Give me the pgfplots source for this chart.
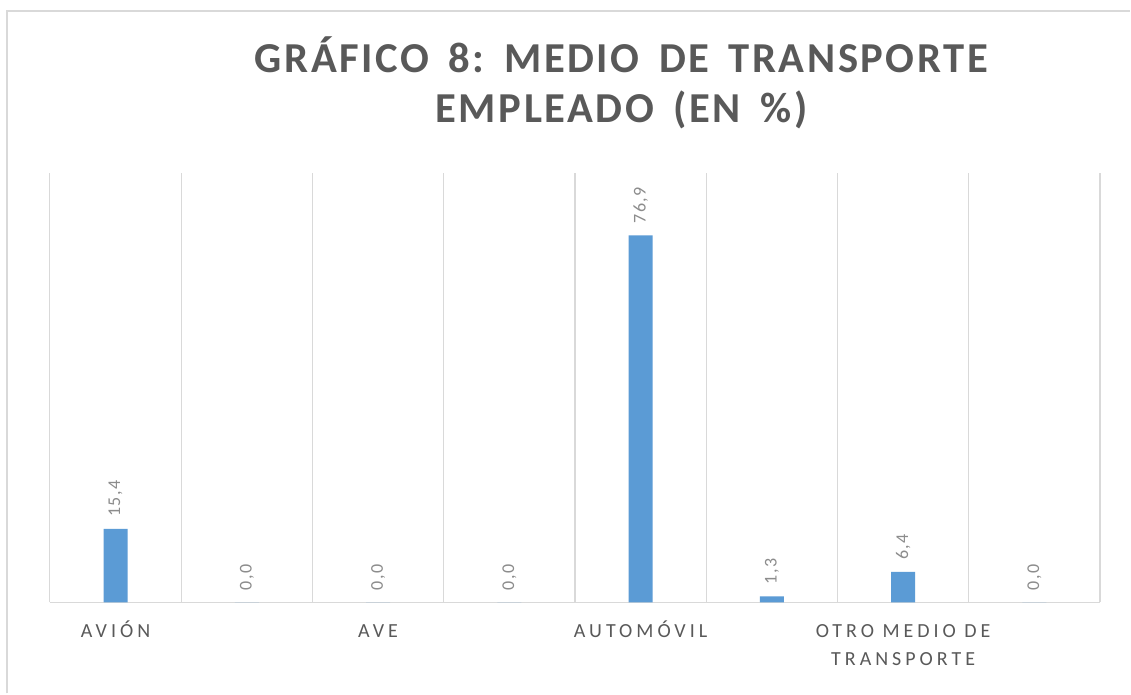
\documentclass[border=0pt]{standalone}
\usepackage{pgfplots}
\pgfplotsset{compat=1.18}
\usepackage{fontspec}
\setmainfont{Carlito}
\newfontfamily\titlefont[LetterSpace=6,WordSpace=1.6]{Carlito}
\newfontfamily\labfont[LetterSpace=20]{Carlito}
\newfontfamily\valfont[LetterSpace=8]{Carlito}
\definecolor{barblue}{HTML}{5B9BD5}
\definecolor{gridgray}{HTML}{D9D9D9}
\definecolor{txtgray}{HTML}{595959}
\definecolor{valgray}{HTML}{8C8C8C}
\frenchspacing
\begin{document}
\begin{tikzpicture}[x=0.75pt,y=0.75pt]
\fill[white] (0,0) rectangle (1131,694);
\draw[gridgray, line width=1.5pt] (7,0) -- (7,683) -- (1131,683);
\node[font=\titlefont\bfseries\fontsize{32}{37.5}\selectfont, text=txtgray, anchor=base, inner sep=0pt] at (622,621) {GRÁFICO 8: MEDIO DE TRANSPORTE};
\node[font=\titlefont\bfseries\fontsize{32}{37.5}\selectfont, text=txtgray, anchor=base, inner sep=0pt] at (622,571) {EMPLEADO (EN \%)};
\begin{axis}[
  at={(37.5pt,68.25pt)}, anchor=south west,
  scale only axis, width=788.25pt, height=322.5pt,
  ybar, bar width=18pt,
  xmin=-0.5, xmax=7.5, ymin=0, ymax=90,
  clip=false,
  axis line style={draw=none},
  tick style={draw=none},
  major tick length=0pt, minor tick length=0pt,
  ytick={0}, yticklabels={},
  ymajorgrids, xmajorgrids=false,
  major grid style={gridgray, line width=1.1pt},
  minor xtick={-0.5,0.5,1.5,2.5,3.5,4.5,5.5,6.5,7.5},
  xminorgrids,
  minor grid style={gridgray, line width=0.8pt},
  xtick={0,2,4,6},
  xticklabels={AVIÓN,{\vphantom{Ó}AVE},AUTOMÓVIL,{\vphantom{Ó}OTRO MEDIO DE\\TRANSPORTE}},
  xticklabel style={font=\labfont\fontsize{15}{21.5}\selectfont, text=txtgray, align=center, yshift=-10pt},
  nodes near coords={\pgfmathprintnumber[fixed,fixed zerofill,precision=1,use comma,assume math mode=true]{\pgfplotspointmeta}},
  every node near coord/.append style={rotate=90, anchor=west, inner xsep=9pt, font=\valfont\fontsize{13.5}{16}\selectfont, text=valgray},
]
\addplot[fill=barblue, draw=none] coordinates {(0,15.4) (1,0.0) (2,0.0) (3,0.0) (4,76.9) (5,1.3) (6,6.4) (7,0.0)};
\end{axis}
\end{tikzpicture}
\end{document}
